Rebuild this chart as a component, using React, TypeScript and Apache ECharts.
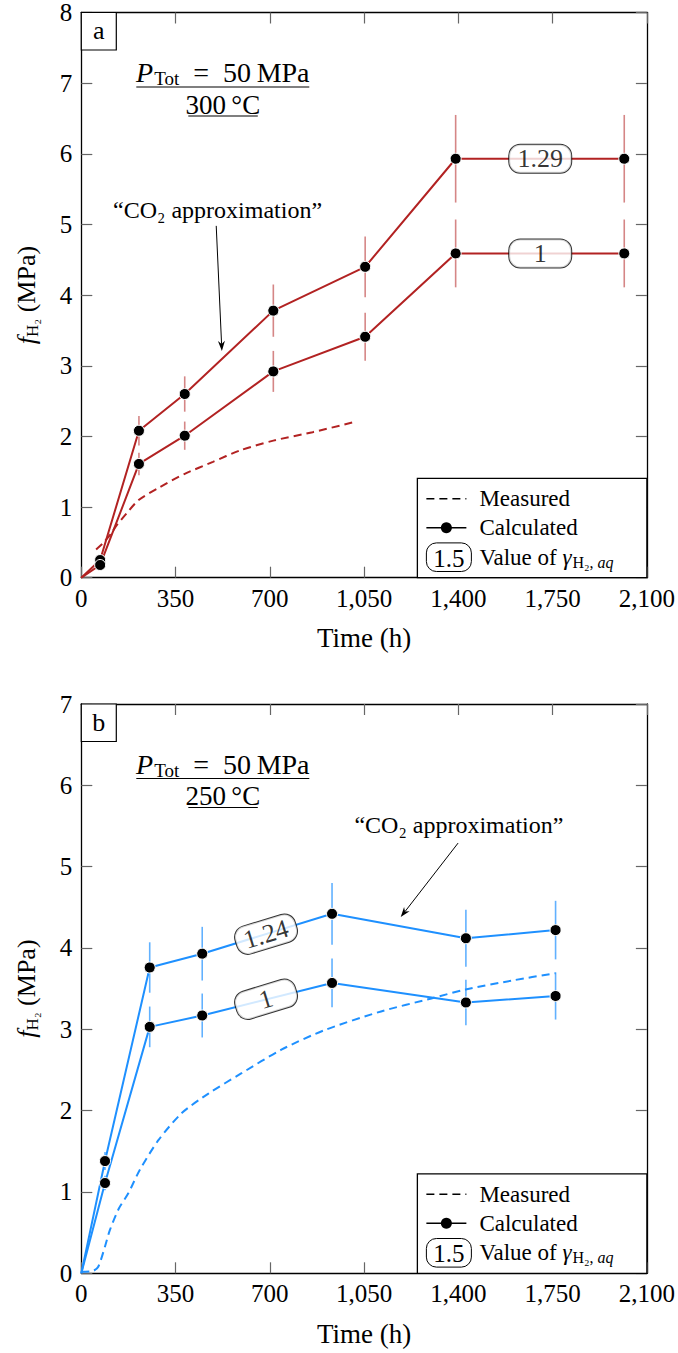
import React, { useEffect, useRef } from 'react';
import * as echarts from 'echarts';

const FONT = "'Liberation Serif', serif";
const RED = '#B22222';
const RED_ERR = 'rgba(178,34,34,0.55)';
const BLUE = '#1E90FF';
const BLUE_ERR = 'rgba(30,144,255,0.7)';

// shared axis settings
const timeMin = 0;
const timeMax = 2100;
const timeStep = 350;
const panelLetters = ['a', 'b'];
const panelTemps = ['300\u2009°C', '250\u2009°C'];
const panelYMax = [8, 7];

// ---- panel a (300 °C) ----
const aCalcTime = [0, 70, 214, 384, 713, 1054, 1390, 2016];
const aCalcG129 = [0, 0.25, 2.08, 2.60, 3.78, 4.40, 5.93, 5.93];
const aCalcG1 = [0, 0.18, 1.61, 2.01, 2.92, 3.41, 4.59, 4.59];
const aErrG129 = [0, 0.03, 0.21, 0.25, 0.37, 0.43, 0.62, 0.62];
const aErrG1 = [0, 0.02, 0.16, 0.20, 0.29, 0.34, 0.48, 0.48];
const aMeasTime = [55, 81, 110, 131, 168, 213, 291, 384, 489, 588, 713, 859, 1010];
const aMeasured = [0.40, 0.49, 0.62, 0.74, 0.91, 1.10, 1.28, 1.47, 1.64, 1.80, 1.94, 2.06, 2.20];
const aGammaText = ['1.29', '1'];
const aGammaTime = [1704, 1704];
const aGammaValue = [5.93, 4.59];
const aGammaRotate = [0, 0];
const aNoteText = [506, 5.2];
const aNoteFrom = [501, 4.98];
const aNoteTo = [522, 3.21];

// ---- panel b (250 °C) ----
const bCalcTime = [0, 88, 254, 449, 931, 1428, 1761];
const bCalcG124 = [0, 1.38, 3.76, 3.93, 4.42, 4.12, 4.22];
const bCalcG1 = [0, 1.11, 3.03, 3.17, 3.57, 3.33, 3.41];
const bErrG124 = [0, 0.11, 0.31, 0.33, 0.38, 0.35, 0.36];
const bErrG1 = [0, 0.09, 0.25, 0.27, 0.30, 0.28, 0.29];
const bMeasTime = [0, 44, 63, 88, 106, 140, 174, 217, 287, 373, 472, 595, 743, 903, 1113, 1300, 1427, 1600, 1761];
const bMeasured = [0.02, 0.03, 0.08, 0.33, 0.53, 0.80, 0.98, 1.27, 1.64, 1.97, 2.21, 2.46, 2.75, 2.99, 3.22, 3.38, 3.49, 3.60, 3.69];
const bGammaText = ['1.24', '1'];
const bGammaTime = [686, 686];
const bGammaValue = [4.17, 3.37];
const bGammaRotate = [17, 17];
const bNoteText = [1402, 5.51];
const bNoteFrom = [1399, 5.29];
const bNoteTo = [1186, 4.38];

const fmtTime = (v: number) => v.toLocaleString('en-US');

const nameRich = {
  f: { fontFamily: FONT, fontSize: 26, fontStyle: 'italic', color: '#000' },
  s: { fontFamily: FONT, fontSize: 17, color: '#000', padding: [12, 0, 0, 0] },
  n: { fontFamily: FONT, fontSize: 26, color: '#000' },
};

function xAxes(grid: number) {
  const common = {
    gridIndex: grid, type: 'value', min: timeMin, max: timeMax, interval: timeStep,
    splitLine: { show: false },
    axisLine: { show: true, onZero: false, lineStyle: { color: '#000', width: 1.3 } },
    axisTick: { show: true, inside: true, length: 11, lineStyle: { color: '#666', width: 1.2 } },
  };
  return [
    {
      ...common, position: 'bottom',
      axisLabel: { formatter: fmtTime, fontFamily: FONT, fontSize: 25, color: '#000', margin: 8 },
      name: 'Time (h)', nameLocation: 'middle', nameGap: 47,
      nameTextStyle: { fontFamily: FONT, fontSize: 27, color: '#000' },
    },
    { ...common, position: 'top', axisLabel: { show: false } },
  ];
}

function yAxes(grid: number, max: number) {
  const common = {
    gridIndex: grid, type: 'value', min: 0, max, interval: 1,
    splitLine: { show: false },
    axisLine: { show: true, onZero: false, lineStyle: { color: '#000', width: 1.3 } },
    axisTick: { show: true, inside: true, length: 11, lineStyle: { color: '#666', width: 1.2 } },
  };
  return [
    {
      ...common, position: 'left',
      axisLabel: { fontFamily: FONT, fontSize: 25, color: '#000', margin: 9 },
      name: '{f|f}{s|H₂}{n| (MPa)}', nameLocation: 'middle', nameGap: 40,
      nameTextStyle: { fontFamily: FONT, fontSize: 26, color: '#000', rich: nameRich },
    },
    { ...common, position: 'right', axisLabel: { show: false } },
  ];
}

function panelSeries(
  axis: number, color: string, errColor: string,
  t: number[], hi: number[], lo: number[], eHi: number[], eLo: number[],
  mt: number[], mv: number[],
  gText: string[], gTime: number[], gVal: number[], gRot: number[],
) {
  const lineData = (vals: number[]) =>
    t.map((x, i) => (i === 0 ? { value: [x, vals[i]], symbol: 'none' } : { value: [x, vals[i]] }));
  const errData = (vals: number[], errs: number[]) =>
    t.slice(1).map((x, i) => [x, vals[i + 1] - errs[i + 1], vals[i + 1] + errs[i + 1]]);
  const errSeries = (vals: number[], errs: number[]) => ({
    type: 'custom', xAxisIndex: axis, yAxisIndex: axis, z: 1, silent: true,
    data: errData(vals, errs),
    encode: { x: 0, y: [1, 2] },
    renderItem: (_p: any, api: any) => {
      const a = api.coord([api.value(0), api.value(1)]);
      const b = api.coord([api.value(0), api.value(2)]);
      return { type: 'line', shape: { x1: a[0], y1: a[1], x2: b[0], y2: b[1] }, style: { stroke: errColor, lineWidth: 1.6 } };
    },
  });
  const calc = (vals: number[]) => ({
    type: 'line', xAxisIndex: axis, yAxisIndex: axis, z: 3,
    data: lineData(vals),
    symbol: 'circle', symbolSize: 11, showSymbol: true,
    lineStyle: { color, width: 2 },
    itemStyle: { color: '#000', borderColor: '#fff', borderWidth: 1 },
  });
  return [
    errSeries(hi, eHi),
    errSeries(lo, eLo),
    {
      type: 'line', xAxisIndex: axis, yAxisIndex: axis, z: 2,
      data: mt.map((x, i) => [x, mv[i]]), symbol: 'none', smooth: 0.25,
      lineStyle: { color, width: 2, type: [8, 5] },
    },
    calc(hi),
    calc(lo),
    {
      type: 'scatter', xAxisIndex: axis, yAxisIndex: axis, z: 5, silent: true,
      symbolSize: 1, itemStyle: { color: 'rgba(0,0,0,0)' },
      data: gText.map((s, i) => ({
        value: [gTime[i], gVal[i]],
        label: {
          show: true, position: 'inside', formatter: s, rotate: gRot[i],
          fontFamily: FONT, fontSize: 26, color: '#000',
          backgroundColor: '#fff', borderColor: '#000', borderWidth: 1, borderRadius: 11,
          padding: [2, 8, 0, 8], width: 46, align: 'center', verticalAlign: 'middle',
        },
      })),
    },
  ];
}

function arrowEls(from: number[], to: number[]) {
  const dx = to[0] - from[0];
  const dy = to[1] - from[1];
  const len = Math.hypot(dx, dy);
  const ux = dx / len, uy = dy / len;
  const hl = 10, hw = 3.5;
  const bx = to[0] - ux * hl, by = to[1] - uy * hl;
  return [
    { type: 'line', shape: { x1: from[0], y1: from[1], x2: bx + ux * 3, y2: by + uy * 3 }, style: { stroke: '#000', lineWidth: 1 }, z: 60 },
    {
      type: 'polygon', z: 60,
      shape: { points: [[to[0], to[1]], [bx - uy * hw, by + ux * hw], [bx + ux * 3, by + uy * 3], [bx + uy * hw, by - ux * hw]] },
      style: { fill: '#000' },
    },
  ];
}

function panelGraphics(chart: any, axis: number, ymax: number, letter: string, temp: string,
  noteText: number[], noteFrom: number[], noteTo: number[]) {
  const finder = { xAxisIndex: axis * 2, yAxisIndex: axis * 2 };
  const tl = chart.convertToPixel(finder, [timeMin, ymax]);
  const br = chart.convertToPixel(finder, [timeMax, 0]);
  const L = tl[0], T = tl[1], R = br[0], B = br[1];
  const els: any[] = [];
  // panel letter
  els.push({ type: 'rect', z: 50, shape: { x: L, y: T, width: 35, height: 37.5 }, style: { fill: '#fff', stroke: '#000', lineWidth: 1.2 } });
  els.push({ type: 'text', z: 51, x: L + 17.5, y: T + 18, style: { text: letter, fontFamily: FONT, fontSize: 26, fill: '#000', align: 'center', verticalAlign: 'middle' } });
  // fraction  P_Tot = 50 MPa / temp
  const cx = L + 141.5;
  els.push({
    type: 'text', z: 51, x: cx, y: T + 60,
    style: {
      text: '{p|P}{s|Tot}{n|  =  50\u2009MPa}', align: 'center', verticalAlign: 'middle', fill: '#000',
      rich: {
        p: { fontFamily: FONT, fontSize: 28, fontStyle: 'italic', fill: '#000' },
        s: { fontFamily: FONT, fontSize: 19, fill: '#000', padding: [12, 0, 0, 1] },
        n: { fontFamily: FONT, fontSize: 28, fill: '#000' },
      },
    },
  });
  els.push({ type: 'line', z: 51, shape: { x1: L + 55, y1: T + 74.5, x2: L + 228, y2: T + 74.5 }, style: { stroke: '#000', lineWidth: 1.2 } });
  els.push({ type: 'text', z: 51, x: cx, y: T + 92, style: { text: temp, fontFamily: FONT, fontSize: 27, fill: '#000', align: 'center', verticalAlign: 'middle' } });
  els.push({ type: 'line', z: 51, shape: { x1: L + 107, y1: T + 103.5, x2: L + 176.5, y2: T + 103.5 }, style: { stroke: '#000', lineWidth: 1.2 } });
  // CO2 approximation annotation
  const np = chart.convertToPixel(finder, noteText);
  els.push({ type: 'text', z: 51, x: np[0], y: np[1], style: { text: '“CO₂ approximation”', fontFamily: FONT, fontSize: 24, fill: '#000', align: 'center', verticalAlign: 'middle' } });
  els.push(...arrowEls(chart.convertToPixel(finder, noteFrom), chart.convertToPixel(finder, noteTo)));
  // legend
  const lw = 229.5, lh = 99.4;
  const lx = R - lw, ly = B - lh;
  els.push({ type: 'rect', z: 100, shape: { x: lx, y: ly, width: lw, height: lh }, style: { fill: '#fff', stroke: '#000', lineWidth: 1.3 } });
  const r1 = B - 79, r2 = B - 50, r3 = B - 20.5;
  const tx = lx + 62;
  els.push({ type: 'line', z: 101, shape: { x1: lx + 9, y1: r1, x2: lx + 49, y2: r1 }, style: { stroke: '#000', lineWidth: 1.6, lineDash: [8, 5] } });
  els.push({ type: 'text', z: 101, x: tx, y: r1, style: { text: 'Measured', fontFamily: FONT, fontSize: 23, fill: '#000', align: 'left', verticalAlign: 'middle' } });
  els.push({ type: 'line', z: 101, shape: { x1: lx + 9, y1: r2, x2: lx + 49, y2: r2 }, style: { stroke: '#000', lineWidth: 1.6 } });
  els.push({ type: 'circle', z: 102, shape: { cx: lx + 29, cy: r2, r: 5.5 }, style: { fill: '#000' } });
  els.push({ type: 'text', z: 101, x: tx, y: r2, style: { text: 'Calculated', fontFamily: FONT, fontSize: 23, fill: '#000', align: 'left', verticalAlign: 'middle' } });
  els.push({ type: 'rect', z: 101, shape: { x: lx + 9, y: r3 - 14.3, width: 45, height: 28.6, r: 10 }, style: { fill: '#fff', stroke: '#000', lineWidth: 1 } });
  els.push({ type: 'text', z: 102, x: lx + 31.5, y: r3 + 1, style: { text: '1.5', fontFamily: FONT, fontSize: 25, fill: '#000', align: 'center', verticalAlign: 'middle' } });
  els.push({
    type: 'text', z: 101, x: tx, y: r3,
    style: {
      text: '{n|Value of }{g|γ}{s|H₂, }{i|aq}', align: 'left', verticalAlign: 'middle', fill: '#000',
      rich: {
        n: { fontFamily: FONT, fontSize: 23, fill: '#000' },
        g: { fontFamily: FONT, fontSize: 23, fontStyle: 'italic', fill: '#000' },
        s: { fontFamily: FONT, fontSize: 16, fill: '#000', padding: [10, 0, 0, 1] },
        i: { fontFamily: FONT, fontSize: 16, fontStyle: 'italic', fill: '#000', padding: [10, 0, 0, 0] },
      },
    },
  });
  return els;
}

export default function App() {
  const ref = useRef<HTMLDivElement>(null);
  useEffect(() => {
    document.body.style.margin = '0';
    if (!ref.current) return;
    const chart = echarts.init(ref.current, undefined, { renderer: 'svg' });
    const option: any = {
      animation: false,
      backgroundColor: '#fff',
      textStyle: { fontFamily: FONT },
      grid: [
        { left: 81.3, top: 11.5, width: 567.2, height: 566.2 },
        { left: 81.3, top: 704, width: 567.2, height: 569.3 },
      ],
      xAxis: [...xAxes(0), ...xAxes(1)],
      yAxis: [...yAxes(0, panelYMax[0]), ...yAxes(1, panelYMax[1])],
      series: [
        ...panelSeries(0, RED, RED_ERR, aCalcTime, aCalcG129, aCalcG1, aErrG129, aErrG1,
          aMeasTime, aMeasured, aGammaText, aGammaTime, aGammaValue, aGammaRotate),
        ...panelSeries(2, BLUE, BLUE_ERR, bCalcTime, bCalcG124, bCalcG1, bErrG124, bErrG1,
          bMeasTime, bMeasured, bGammaText, bGammaTime, bGammaValue, bGammaRotate),
      ],
    };
    chart.setOption(option);
    const graphic = [
      ...panelGraphics(chart, 0, panelYMax[0], panelLetters[0], panelTemps[0], aNoteText, aNoteFrom, aNoteTo),
      ...panelGraphics(chart, 1, panelYMax[1], panelLetters[1], panelTemps[1], bNoteText, bNoteFrom, bNoteTo),
    ];
    chart.setOption({ graphic });
    return () => chart.dispose();
  }, []);
  return <div ref={ref} style={{ width: 678, height: 1353 }} />;
}
